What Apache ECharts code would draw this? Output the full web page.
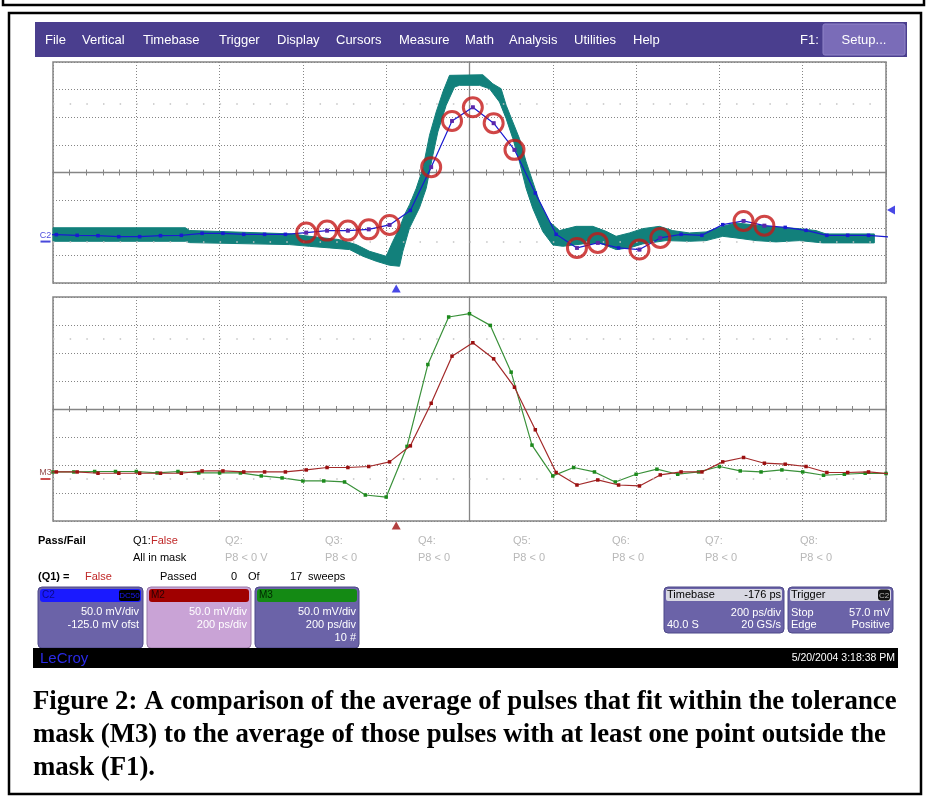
<!DOCTYPE html>
<html><head><meta charset="utf-8">
<script src="https://cdn.jsdelivr.net/npm/echarts@6/dist/echarts.min.js"></script>
<style>html,body{margin:0;padding:0;background:#fff;}#c{width:927px;height:797px;}</style>
</head><body><div id="c"></div>
<script>
// ---------------- DATA (time in ps, amplitude in mV) ----------------
// C2 = F1 average (pulses with at least one point outside the mask), 50 ps sample spacing
const c2Time = [-1042,-992,-942,-892,-842,-792,-742,-692,-642,-592,-542,-492,-442,-392,-342,-292,-242,-192,-142,-92,-42,8,58,108,158,208,258,308,358,408,458,508,558,608,658,708,758,808,858,908,958,1008];
const c2Val  = [12.5,12.5,11.3,10.7,8.9,8.9,10.7,11.3,14.9,14.9,13.1,13.1,13.1,16.2,19.8,19.8,22.1,30.1,56.4,134.7,218.3,243,214.2,166,87.8,13.1,-11.5,-2.4,-11.5,-14.5,6.6,13.1,11.3,30.6,37.3,28.8,25.7,20.3,11.3,11.3,11.3,8.4];
// indices of C2 samples that fall outside the mask (red circles)
const failIdx = [13,14,15,16,17,19,20,21,22,23,26,27,29,30,34,35];
// M2 (red) – same sample times as C2
const m2Val  = [12.6,12.6,12.6,10.3,10.3,10.3,10.3,10.3,14.4,14.4,12.6,12.6,12.6,16.2,20.5,20.5,22.3,30.6,59.2,135.2,219.4,243.3,214.6,163.9,87.9,11.6,-10.7,-1.7,-10.7,-12.4,7.3,12.6,12.6,30.6,38.4,28.2,26.4,22.3,11.6,11.6,12.6,9.5];
// M3 (green) – average of pulses within the mask
const m3Time = [-1000,-950,-900,-850,-800,-750,-700,-650,-600,-550,-500,-450,-400,-350,-300,-250,-200,-150,-100,-50,0,50,100,150,200,250,300,350,400,450,500,550,600,650,700,750,800,850,900,950,1000];
const m3Val  = [12.6,12.6,13.4,13.4,13.4,10.8,13.4,10.8,10.8,10.8,5.5,1.9,-3.5,-3.5,-5.3,-28.6,-32.2,58.2,204.4,289.3,295.2,274.3,190.8,60.5,5.5,20.5,12.6,-5.3,8.5,17.5,8.5,12.6,22.3,14.4,12.6,16.2,12.6,6.7,8.5,10.3,9.8];
// tolerance mask envelope
const maskUpperT = [-1000,-682,-672,-432,-384,-312,-272,-240,-200,-184,-168,-156,-144,-128,-112,-96,-80,-64,-48,32,56,76,88,104,120,136,152,168,192,216,256,296,328,352,384,416,456,488,528,568,608,640,736,792,832,856,972];
const maskUpperV = [25,25,20,14,9.5,3.5,-5.5,-17.6,-26.6,0.5,24.6,48.6,66.7,96.1,132.2,192.5,234.6,270.7,300.8,301.9,285.6,276.6,246.7,216.5,186.4,144.3,108.2,72.1,36,19.8,27.5,27.5,18.5,9.5,15.6,23.4,27.5,19.8,15.6,17.4,27.5,33.7,25.7,23.4,19.8,13.8,13.8];
const maskLowerT = [-1000,-682,-672,-432,-384,-336,-288,-256,-224,-192,-168,-160,-144,-120,-104,-88,-76,-56,-36,-24,24,48,72,88,104,120,136,152,176,200,224,272,312,352,384,416,472,528,568,608,640,688,736,792,848,972];
const maskLowerV = [0.5,0.5,-1.9,-5.5,-8.6,-11.5,-14.5,-26.6,-35.6,-42.9,-44.7,-17.6,24.6,61.3,96.1,156.4,198.5,246.7,279.7,282.8,282.8,276.6,252.6,222.5,186.4,144.3,96.1,60,18,-6,-8.6,-4.2,-2.4,-14.5,-11.5,-4.2,1.7,0.5,1.7,9.5,6.6,1.7,-0.6,1.7,-2.4,-2.4];
// scope settings
const triggerTime = -176;   // ps
const triggerLevel = 57;    // mV
const screenMin = -75, screenMax = 325; // mV (50 mV/div, -125 mV offset)
const menuItems = ['File','Vertical','Timebase','Trigger','Display','Cursors','Measure','Math','Analysis','Utilities','Help'];
const qLabels = ['Q2:','Q3:','Q4:','Q5:','Q6:','Q7:','Q8:'];
const qConds  = ['P8 < 0 V','P8 < 0','P8 < 0','P8 < 0','P8 < 0','P8 < 0','P8 < 0'];
const captionLines = [
 'Figure 2: A comparison of the average of pulses that fit within the tolerance',
 'mask (M3) to the average of those pulses with at least one point outside the',
 'mask (F1).'
];

// ---------------- LAYOUT ----------------
const GL = 53, GW = 833;
const G0 = {top:62, h:221}, G1 = {top:297, h:224};
const menuX = [45,82,143,219,277,336,399,465,509,574,633];
const qX = [225,325,418,513,612,705,800];
const SANS = '"Liberation Sans", Arial, sans-serif';
const GRIDC = '#858585';

const gr = [];
function rect(x,y,w,h,fill,o){o=o||{};gr.push({type:'rect',silent:true,z:o.z||1,shape:{x:x,y:y,width:w,height:h,r:o.r||0},style:{fill:fill,stroke:o.stroke||null,lineWidth:o.lw||0}});}
function txt(s,x,y,o){o=o||{};const a=o.a||'left';gr.push({type:'text',silent:true,z:o.z||3,x:x,y:y,style:{text:s,fill:o.c||'#000',font:(o.w||'normal')+' '+(o.s||11)+'px '+(o.f||SANS),textAlign:a,align:a,textVerticalAlign:'middle',verticalAlign:'middle'}});}

// frames
gr.push({type:'polyline',silent:true,shape:{points:[[3,0],[3,5],[924,5],[924,0]]},style:{fill:null,stroke:'#000',lineWidth:2.5}});
rect(9,13,912,781,null,{stroke:'#000',lw:2.5});
// menu bar
rect(35,22,872,35,'#4a3e8e');
menuItems.forEach(function(m,i){txt(m,menuX[i],40,{c:'#fff',s:13});});
txt('F1:',800,40,{c:'#fff',s:13});
rect(823,24,82,31,'#7a6cb8',{r:2,stroke:'#9084c8',lw:1});
txt('Setup...',864,40,{c:'#fff',s:13,a:'center'});
// pass / fail area
txt('Pass/Fail',38,541,{w:'bold'});
txt('Q1:',133,541); txt('False',151,541,{c:'#c02828'});
txt('All in mask',133,558);
qLabels.forEach(function(q,i){txt(q,qX[i],541,{c:'#b8b8b8'});txt(qConds[i],qX[i],558,{c:'#b8b8b8'});});
txt('(Q1) =',38,577,{w:'bold'}); txt('False',85,577,{c:'#c02828'});
txt('Passed',160,577); txt('0',231,577); txt('Of',248,577); txt('17',290,577); txt('sweeps',308,577);
// channel boxes
rect(38,587,105,61,'#6b63a8',{r:4,stroke:'#4d4888',lw:1});
rect(40,589,101,13,'#1a1aff',{r:3});
txt('C2',42,595.5,{c:'#0a0a8a',s:10});
rect(119,590,21,11,'#000',{r:2}); txt('DC50',129.5,595.5,{c:'#1a1aff',s:8,a:'center'});
txt('50.0 mV/div',139,612,{c:'#fff',a:'right'}); txt('-125.0 mV ofst',139,625,{c:'#fff',a:'right'});
rect(147,587,104,61,'#c9a3d6',{r:4,stroke:'#9a7aa8',lw:1});
rect(149,589,100,13,'#a00000',{r:3});
txt('M2',151,595.5,{c:'#2a0000',s:10});
txt('50.0 mV/div',247,612,{c:'#fff',a:'right'}); txt('200 ps/div',247,625,{c:'#fff',a:'right'});
rect(255,587,104,61,'#6b63a8',{r:4,stroke:'#4d4888',lw:1});
rect(257,589,100,13,'#148a14',{r:3});
txt('M3',259,595.5,{c:'#002800',s:10});
txt('50.0 mV/div',356,612,{c:'#fff',a:'right'}); txt('200 ps/div',356,625,{c:'#fff',a:'right'}); txt('10 #',356,638,{c:'#fff',a:'right'});
// timebase / trigger
rect(664,587,120,46,'#6b63a8',{r:4,stroke:'#4d4888',lw:1});
rect(666,589,116,12,'#d8d8e2',{r:2});
txt('Timebase',667,595); txt('-176 ps',781,595,{a:'right'});
txt('200 ps/div',781,612.5,{c:'#fff',a:'right'}); txt('40.0 S',667,625,{c:'#fff'}); txt('20 GS/s',781,625,{c:'#fff',a:'right'});
rect(788,587,105,46,'#6b63a8',{r:4,stroke:'#4d4888',lw:1});
rect(790,589,101,12,'#d8d8e2',{r:2});
txt('Trigger',791,595); rect(878,589.5,12,11,'#111',{r:3}); txt('C2',884,595.5,{c:'#bbb',s:8,a:'center'});
txt('Stop',791,612.5,{c:'#fff'}); txt('57.0 mV',890,612.5,{c:'#fff',a:'right'});
txt('Edge',791,625,{c:'#fff'}); txt('Positive',890,625,{c:'#fff',a:'right'});
// status bar
rect(33,648,865,20,'#000');
txt('LeCroy',40,658.5,{c:'#2a2ae6',s:15});
txt('5/20/2004 3:18:38 PM',895,658,{c:'#fff',s:10.5,a:'right'});
// caption
captionLines.forEach(function(l,i){txt(l,33,702+i*33,{w:'bold',s:26.8,f:'"Liberation Serif","Times New Roman",serif'});});

// ---------------- AXES ----------------
function xAxes(gi,h){
  return [
    {gridIndex:gi,type:'value',min:-1000,max:1000,interval:200,axisLine:{show:false},axisTick:{show:false},axisLabel:{show:false},
     splitLine:{show:true,lineStyle:{color:GRIDC,type:[1,2],width:1}}},
    {gridIndex:gi,type:'value',min:-1000,max:1000,interval:40,position:'bottom',offset:-h/2,
     axisLine:{show:true,onZero:false,lineStyle:{color:GRIDC,width:1.3}},axisTick:{show:true,inside:true,length:3,lineStyle:{color:GRIDC}},axisLabel:{show:false},splitLine:{show:false}},
    {gridIndex:gi,type:'value',min:-1000,max:1000,interval:40,position:'bottom',offset:-h/2,
     axisLine:{show:false,onZero:false},axisTick:{show:true,inside:false,length:3,lineStyle:{color:GRIDC}},axisLabel:{show:false},splitLine:{show:false}}
  ];
}
function yAxes(gi){
  return [
    {gridIndex:gi,type:'value',min:screenMin,max:screenMax,show:false},
    {gridIndex:gi,type:'value',min:-4,max:4,interval:1,axisLine:{show:false},axisTick:{show:false},axisLabel:{show:false},
     splitLine:{show:true,lineStyle:{color:GRIDC,type:[1,2],width:1}}},
    {gridIndex:gi,type:'value',min:-4,max:4,interval:1,position:'left',offset:-GW/2,
     axisLine:{show:true,onZero:false,lineStyle:{color:GRIDC,width:1.3}},axisTick:{show:false},axisLabel:{show:false},splitLine:{show:false}}
  ];
}
const dotRows = {silent:true,symbol:'none',label:{show:false},animation:false,
  lineStyle:{color:'#c4c4c4',type:[1.5,15.16],width:1.5},data:[{yAxis:0},{yAxis:250}]};

function zip(a,b){return a.map(function(v,i){return [v,b[i]];});}

const option = {
  backgroundColor:'#fff',
  animation:false,
  graphic:{elements:gr},
  grid:[
    {left:GL,top:G0.top,width:GW,height:G0.h,show:true,borderColor:GRIDC,borderWidth:1.5,backgroundColor:'#fff'},
    {left:GL,top:G1.top,width:GW,height:G1.h,show:true,borderColor:GRIDC,borderWidth:1.5,backgroundColor:'#fff'}
  ],
  xAxis: xAxes(0,G0.h).concat(xAxes(1,G1.h)),
  yAxis: yAxes(0).concat(yAxes(1)),
  series:[
    {type:'custom',xAxisIndex:0,yAxisIndex:0,z:2,silent:true,data:[[0,0]],
     renderItem:function(params,api){
       const pts=[];
       for(let i=0;i<maskUpperT.length;i++) pts.push(api.coord([maskUpperT[i],maskUpperV[i]]));
       for(let i=maskLowerT.length-1;i>=0;i--) pts.push(api.coord([maskLowerT[i],maskLowerV[i]]));
       return {type:'polygon',shape:{points:pts},style:{fill:'#12807b',stroke:'#12807b',lineWidth:1}};
     }},
    {type:'line',name:'C2',xAxisIndex:0,yAxisIndex:0,z:3,data:zip(c2Time,c2Val),symbol:'rect',symbolSize:3.5,showAllSymbol:true,
     lineStyle:{color:'#1a1ad2',width:1.2},itemStyle:{color:'#1a1ad2'},markLine:dotRows},
    {type:'scatter',xAxisIndex:0,yAxisIndex:0,z:4,data:failIdx.map(function(i){return [c2Time[i],c2Val[i]];}),
     symbol:'rect',symbolSize:4,itemStyle:{color:'#6a2aa0'}},
    {type:'scatter',xAxisIndex:0,yAxisIndex:0,z:5,data:failIdx.map(function(i){return [c2Time[i],c2Val[i]];}),
     symbol:'circle',symbolSize:19,itemStyle:{color:'rgba(0,0,0,0)',borderColor:'#c41818',borderWidth:3}},
    {type:'scatter',xAxisIndex:0,yAxisIndex:0,z:6,clip:false,silent:true,data:[
      {value:[triggerTime,-85],symbol:'triangle',symbolSize:[9,8],itemStyle:{color:'#1a1ae0'}},
      {value:[1012,triggerLevel],symbol:'triangle',symbolSize:[9,8],symbolRotate:90,itemStyle:{color:'#1a1ae0'}},
      {value:[-1018,0],symbol:'rect',symbolSize:[10,2],itemStyle:{color:'#1a1ad2'},
       label:{show:true,formatter:'C2',position:'top',distance:1,color:'#1a1ad2',fontSize:9,fontFamily:SANS}}
    ]},
    {type:'line',name:'M3',xAxisIndex:3,yAxisIndex:3,z:3,data:zip(m3Time,m3Val),symbol:'rect',symbolSize:3.5,showAllSymbol:true,
     lineStyle:{color:'#3a913a',width:1.2},itemStyle:{color:'#1c8a1c'},markLine:dotRows},
    {type:'line',name:'M2',xAxisIndex:3,yAxisIndex:3,z:4,data:zip(c2Time,m2Val),symbol:'rect',symbolSize:3.5,showAllSymbol:true,
     lineStyle:{color:'#a32a2a',width:1.2},itemStyle:{color:'#9b1010'}},
    {type:'scatter',xAxisIndex:3,yAxisIndex:3,z:6,clip:false,silent:true,data:[
      {value:[triggerTime,-83],symbol:'triangle',symbolSize:[9,8],itemStyle:{color:'#a01010'}},
      {value:[-1018,0],symbol:'rect',symbolSize:[10,2],itemStyle:{color:'#c02020'},
       label:{show:true,formatter:'M3',position:'top',distance:1,color:'#7a2020',fontSize:9,fontFamily:SANS}}
    ]}
  ]
};
const chart = echarts.init(document.getElementById('c'));
chart.setOption(option);
</script></body></html>
